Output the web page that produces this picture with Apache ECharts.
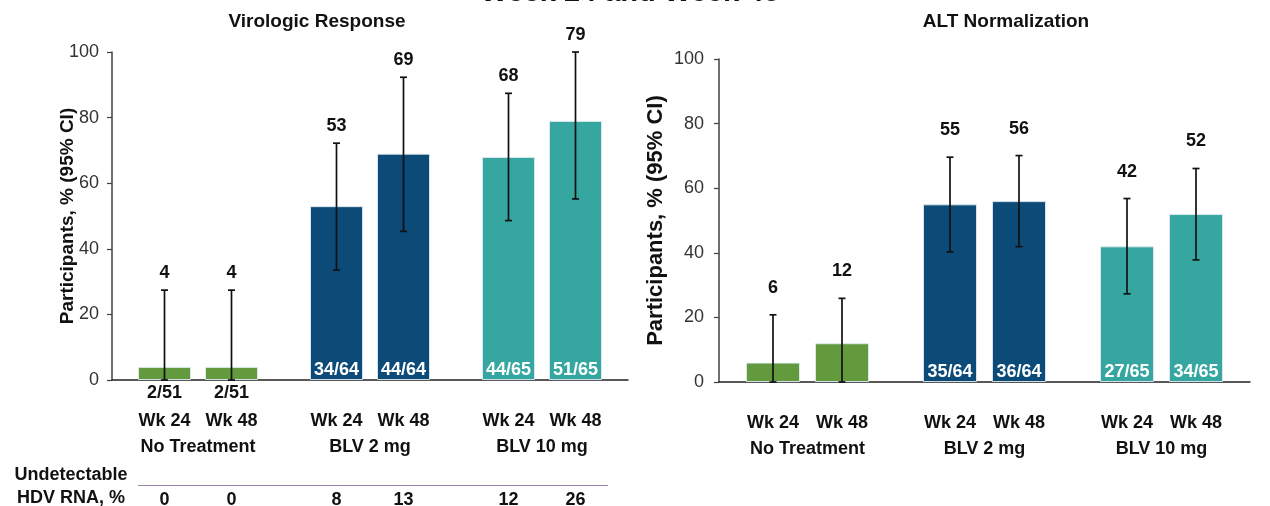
<!DOCTYPE html>
<html>
<head>
<meta charset="utf-8">
<script src="https://cdn.jsdelivr.net/npm/echarts@6/dist/echarts.min.js"></script>
<style>
  html, body { margin: 0; padding: 0; background: #fff; }
  #chart { width: 1270px; height: 506px; }
</style>
</head>
<body>
<div id="chart"></div>
<script>
// Treatment arms and visits
const groups = ['No Treatment', 'BLV 2 mg', 'BLV 10 mg'];
const weeks = ['Wk 24', 'Wk 48'];
const groupColors = ['#639a3e', '#0c4b78', '#36a7a0'];

// Virologic response, % of participants with 95% CI
const vrWk24 = [4, 53, 68];
const vrWk48 = [4, 69, 79];
const vrLow24 = [0, 33.5, 48.6];
const vrHigh24 = [27.4, 72.2, 87.4];
const vrLow48 = [0, 45.3, 55.2];
const vrHigh48 = [27.4, 92.3, 100];
const vrFrac24 = ['2/51', '34/64', '44/65'];
const vrFrac48 = ['2/51', '44/64', '51/65'];

// Undetectable HDV RNA, %
const undet24 = [0, 8, 12];
const undet48 = [0, 13, 26];

// ALT normalization, % of participants with 95% CI
const altWk24 = [6, 55, 42];
const altWk48 = [12, 56, 52];
const altLow24 = [0, 40.3, 27.3];
const altHigh24 = [20.8, 69.6, 56.8];
const altLow48 = [0, 41.9, 37.8];
const altHigh48 = [25.9, 70.1, 66.1];
const altFrac24 = [null, '35/64', '27/65'];
const altFrac48 = [null, '36/64', '34/65'];

// Y axis ticks
const yMin = 0, yMax = 100, yStep = 20;

const FONT = "Arial, 'Liberation Sans', sans-serif";
const INK = '#111';
const AXIS = '#404040';

const panels = [
  { vals: [vrWk24, vrWk48], low: [vrLow24, vrLow48], high: [vrHigh24, vrHigh48],
    frac: [vrFrac24, vrFrac48], barWidth: 53, barGap: 14, labelLift: 17, table: true },
  { vals: [altWk24, altWk48], low: [altLow24, altLow48], high: [altHigh24, altHigh48],
    frac: [altFrac24, altFrac48], barWidth: 54, barGap: 15, labelLift: 27, table: false }
];

function barSeries(p, pi, wi) {
  return {
    type: 'bar',
    xAxisIndex: pi, yAxisIndex: pi,
    barWidth: p.barWidth,
    barGap: (p.barGap / p.barWidth * 100) + '%',
    z: 2,
    data: p.vals[wi].map((v, gi) => {
      const f = p.frac[wi][gi];
      const green = gi === 0;
      return {
        value: v,
        itemStyle: { color: groupColors[gi], borderColor: 'rgba(225,235,242,0.9)', borderWidth: 1 },
        label: {
          show: f != null,
          formatter: f || '',
          position: green ? 'bottom' : 'insideBottom',
          distance: green ? 4 : 1,
          color: green ? INK : '#fff',
          fontFamily: FONT, fontWeight: 'bold', fontSize: 18
        }
      };
    })
  };
}

function errorSeries(p, pi, wi) {
  const half = (p.barWidth + p.barGap) / 2;
  const shift = wi === 0 ? -half : half;
  return {
    type: 'custom',
    xAxisIndex: pi, yAxisIndex: pi,
    z: 5,
    clip: false,
    encode: { x: 0, y: [1, 2] },
    data: p.vals[wi].map((v, gi) => [gi, p.low[wi][gi], p.high[wi][gi], v]),
    renderItem: function (params, api) {
      const top = api.coord([api.value(0), api.value(2)]);
      const bot = api.coord([api.value(0), api.value(1)]);
      const x = top[0] + shift;
      const cap = 3.5;
      const ls = { stroke: '#111', lineWidth: 1.7 };
      return {
        type: 'group',
        children: [
          { type: 'line', shape: { x1: x, y1: top[1], x2: x, y2: bot[1] }, style: ls },
          { type: 'line', shape: { x1: x - cap, y1: top[1], x2: x + cap, y2: top[1] }, style: ls },
          { type: 'line', shape: { x1: x - cap, y1: bot[1], x2: x + cap, y2: bot[1] }, style: ls },
          { type: 'text', style: {
              text: String(api.value(3)), x: x, y: top[1] - p.labelLift,
              align: 'center', verticalAlign: 'middle',
              font: 'bold 18px ' + FONT, fill: INK } }
        ]
      };
    }
  };
}

function xAxisFor(pi, slot, table, margin) {
  return {
    type: 'category', gridIndex: pi, data: groups,
    axisLine: { lineStyle: { color: '#222', width: 1.5 } },
    axisTick: { show: false },
    axisLabel: {
      interval: 0, margin: margin,
      formatter: function (value, idx) {
        let s = '{w|' + weeks[0] + '}{w|' + weeks[1] + '}\n{g|' + value + '}';
        if (table) s += '\n{sp| }\n{u|' + undet24[idx] + '}{u|' + undet48[idx] + '}';
        return s;
      },
      rich: {
        w: { width: slot, align: 'center', fontFamily: FONT, fontWeight: 'bold', fontSize: 18, color: INK, lineHeight: 26 },
        g: { align: 'center', fontFamily: FONT, fontWeight: 'bold', fontSize: 18, color: INK, lineHeight: 26 },
        sp: { fontSize: 10, lineHeight: 27 },
        u: { width: slot, align: 'center', fontFamily: FONT, fontWeight: 'bold', fontSize: 18, color: INK, lineHeight: 26 }
      }
    }
  };
}

function yAxisFor(pi, nameGap, nameSize, labelMargin) {
  return {
    type: 'value', gridIndex: pi, min: yMin, max: yMax, interval: yStep,
    name: 'Participants, % (95% CI)', nameLocation: 'middle', nameGap: nameGap,
    nameMoveOverlap: false,
    nameTextStyle: { fontFamily: FONT, fontWeight: 'bold', fontSize: nameSize, color: INK },
    axisLine: { show: true, lineStyle: { color: AXIS, width: 1.5 } },
    axisTick: { show: true, length: 5, lineStyle: { color: AXIS, width: 1.2 } },
    splitLine: { show: false },
    axisLabel: { fontFamily: FONT, fontSize: 18, color: '#333', margin: labelMargin }
  };
}

const series = [];
panels.forEach((p, pi) => {
  series.push(barSeries(p, pi, 0), barSeries(p, pi, 1));
  series.push(errorSeries(p, pi, 0), errorSeries(p, pi, 1));
});

const chart = echarts.init(document.getElementById('chart'), null, { renderer: 'canvas' });
chart.setOption({
  animation: false,
  grid: [
    { left: 112, right: 642, top: 52, bottom: 126, containLabel: false, outerBoundsMode: 'none' },
    { left: 719, right: 20, top: 59, bottom: 124, containLabel: false, outerBoundsMode: 'none' }
  ],
  xAxis: [xAxisFor(0, 67, true, 28), xAxisFor(1, 69, false, 28)],
  yAxis: [yAxisFor(0, 35, 19, 13), yAxisFor(1, 52, 22, 15)],
  series: series,
  graphic: [
    { type: 'text', x: 630, y: 7, style: {
        text: 'Week 24 and Week 48', align: 'center', verticalAlign: 'bottom',
        font: 'bold 29px ' + FONT, fill: INK } },
    { type: 'text', x: 317, y: 22, style: {
        text: 'Virologic Response', align: 'center', verticalAlign: 'middle',
        font: 'bold 19px ' + FONT, fill: INK } },
    { type: 'text', x: 1006, y: 22, style: {
        text: 'ALT Normalization', align: 'center', verticalAlign: 'middle',
        font: 'bold 19px ' + FONT, fill: INK } },
    { type: 'text', x: 71, y: 487, style: {
        text: 'Undetectable\nHDV RNA, %', align: 'center', verticalAlign: 'middle',
        font: 'bold 18px ' + FONT, fill: INK, lineHeight: 23 } },
    { type: 'line', shape: { x1: 138, y1: 485.5, x2: 608, y2: 485.5 },
      style: { stroke: '#9c84a6', lineWidth: 1.2 } }
  ]
});
</script>
</body>
</html>
